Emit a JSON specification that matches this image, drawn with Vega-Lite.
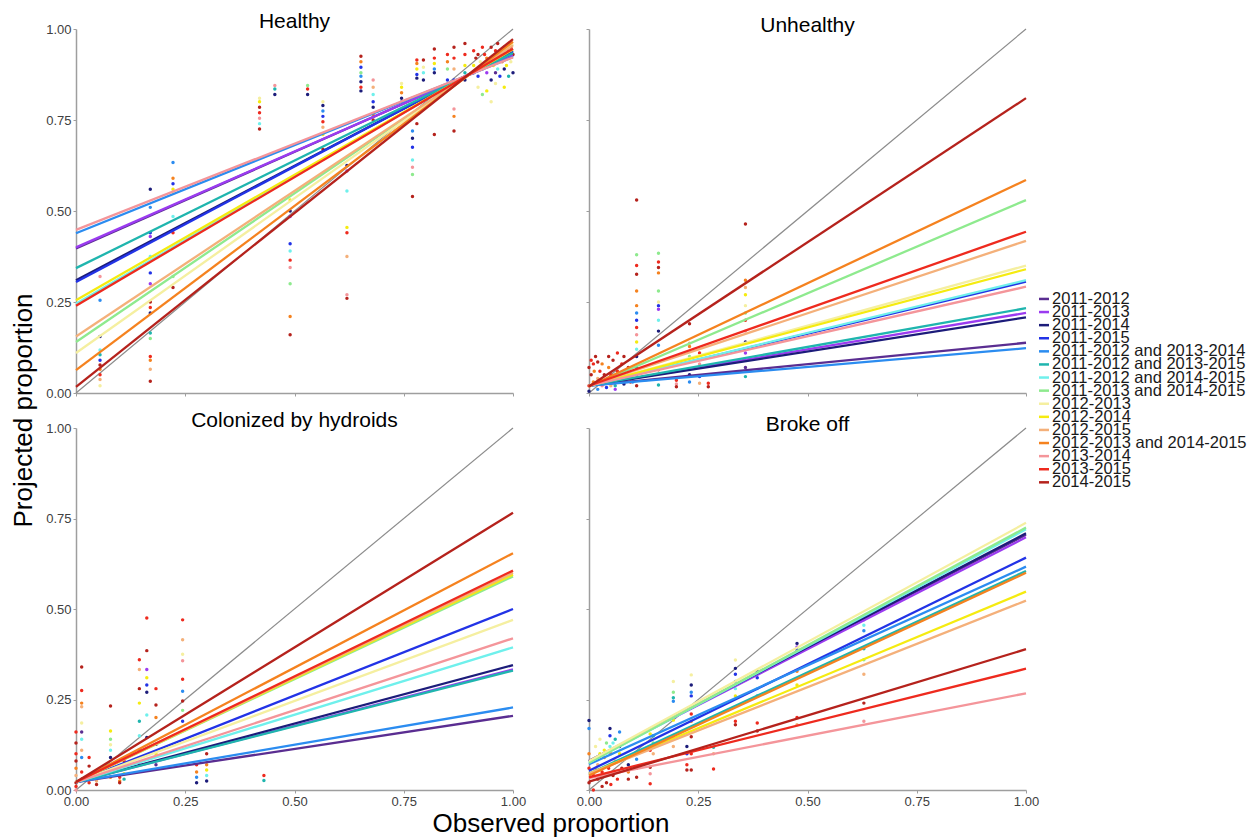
{
"$schema": "https://vega.github.io/schema/vega-lite/v6.json",
"background": "white",
"padding": {"left": 10, "top": 11, "right": 5, "bottom": 5},
"bounds": "flush",
"columns": 2,
"spacing": {"row": 35, "column": 76},
"config": {
  "font": "Liberation Sans",
  "view": {"stroke": null},
  "axis": {"grid": false, "domainColor": "#9e9e9e", "domainWidth": 1.5, "tickColor": "#9e9e9e", "tickSize": 3, "tickWidth": 1, "labelColor": "#404040", "labelFontSize": 13, "labelPadding": 2, "labelFont": "Liberation Sans", "labelFlush": false, "titleFont": "Liberation Sans", "titleColor": "#000000", "titleFontWeight": "normal", "titleFontSize": 26},
  "title": {"fontSize": 21, "fontWeight": "normal", "font": "Liberation Sans", "color": "#000000", "offset": -9, "baseline": "alphabetic", "anchor": "middle", "frame": "group"},
  "range": {"category": ["#5a2d91", "#9b3bf0", "#1c1c7a", "#2233e6", "#2b8cf0", "#1fb5ae", "#6ff0ec", "#8eea8e", "#f5efa0", "#f5eb10", "#f4b07a", "#f5821f", "#f4959a", "#ee2a1e", "#b5221c"]}
},
"datasets": {
  "periods": [{"p":1,"period":"2011-2012"},{"p":2,"period":"2011-2013"},{"p":3,"period":"2011-2014"},{"p":4,"period":"2011-2015"},{"p":5,"period":"2011-2012 and 2013-2014"},{"p":6,"period":"2011-2012 and 2013-2015"},{"p":7,"period":"2011-2012 and 2014-2015"},{"p":8,"period":"2011-2013 and 2014-2015"},{"p":9,"period":"2012-2013"},{"p":10,"period":"2012-2014"},{"p":11,"period":"2012-2015"},{"p":12,"period":"2012-2013 and 2014-2015"},{"p":13,"period":"2013-2014"},{"p":14,"period":"2013-2015"},{"p":15,"period":"2014-2015"}],
  "diag": [{"x":0,"y":0},{"x":1,"y":1}],
  "healthy_pts": [
    {"x":0.055,"y":0.32,"p":13},{"x":0.055,"y":0.255,"p":5},{"x":0.055,"y":0.155,"p":3},{"x":0.055,"y":0.118,"p":7},{"x":0.055,"y":0.105,"p":6},{"x":0.055,"y":0.09,"p":4},{"x":0.055,"y":0.077,"p":15},{"x":0.055,"y":0.065,"p":12},{"x":0.055,"y":0.05,"p":14},{"x":0.055,"y":0.037,"p":11},{"x":0.055,"y":0.02,"p":9},
    {"x":0.17,"y":0.56,"p":3},{"x":0.17,"y":0.51,"p":5},{"x":0.17,"y":0.44,"p":4},{"x":0.17,"y":0.43,"p":2},{"x":0.17,"y":0.375,"p":7},{"x":0.17,"y":0.33,"p":4},{"x":0.17,"y":0.3,"p":2},{"x":0.17,"y":0.25,"p":15},{"x":0.17,"y":0.235,"p":14},{"x":0.17,"y":0.22,"p":3},{"x":0.17,"y":0.165,"p":6},{"x":0.17,"y":0.15,"p":8},{"x":0.17,"y":0.1,"p":14},{"x":0.17,"y":0.09,"p":12},{"x":0.17,"y":0.065,"p":11},{"x":0.17,"y":0.032,"p":15},
    {"x":0.222,"y":0.633,"p":5},{"x":0.222,"y":0.59,"p":12},{"x":0.222,"y":0.575,"p":4},{"x":0.222,"y":0.56,"p":10},{"x":0.222,"y":0.55,"p":9},{"x":0.222,"y":0.485,"p":7},{"x":0.222,"y":0.44,"p":14},{"x":0.222,"y":0.32,"p":8},{"x":0.222,"y":0.29,"p":15},
    {"x":0.42,"y":0.81,"p":9},{"x":0.42,"y":0.8,"p":10},{"x":0.42,"y":0.785,"p":15},{"x":0.42,"y":0.77,"p":14},{"x":0.42,"y":0.755,"p":13},{"x":0.42,"y":0.74,"p":7},{"x":0.42,"y":0.725,"p":15},
    {"x":0.455,"y":0.845,"p":13},{"x":0.455,"y":0.835,"p":6},{"x":0.455,"y":0.82,"p":3},
    {"x":0.49,"y":0.53,"p":10},{"x":0.49,"y":0.5,"p":3},{"x":0.49,"y":0.485,"p":2},{"x":0.49,"y":0.41,"p":4},{"x":0.49,"y":0.39,"p":7},{"x":0.49,"y":0.365,"p":14},{"x":0.49,"y":0.345,"p":13},{"x":0.49,"y":0.3,"p":8},{"x":0.49,"y":0.21,"p":12},{"x":0.49,"y":0.16,"p":15},
    {"x":0.53,"y":0.845,"p":8},{"x":0.53,"y":0.835,"p":14},{"x":0.53,"y":0.82,"p":3},
    {"x":0.565,"y":0.8,"p":9},{"x":0.565,"y":0.79,"p":3},{"x":0.565,"y":0.775,"p":5},{"x":0.565,"y":0.76,"p":4},{"x":0.565,"y":0.745,"p":14},{"x":0.565,"y":0.73,"p":11},{"x":0.565,"y":0.71,"p":10},{"x":0.565,"y":0.67,"p":15},
    {"x":0.62,"y":0.625,"p":3},{"x":0.62,"y":0.61,"p":2},{"x":0.62,"y":0.555,"p":7},{"x":0.62,"y":0.455,"p":10},{"x":0.62,"y":0.44,"p":14},{"x":0.62,"y":0.375,"p":11},{"x":0.62,"y":0.27,"p":13},{"x":0.62,"y":0.26,"p":15},
    {"x":0.652,"y":0.925,"p":15},{"x":0.652,"y":0.91,"p":12},{"x":0.652,"y":0.895,"p":4},{"x":0.652,"y":0.88,"p":8},{"x":0.652,"y":0.87,"p":5},{"x":0.652,"y":0.855,"p":3},{"x":0.652,"y":0.84,"p":14},{"x":0.652,"y":0.83,"p":3},
    {"x":0.68,"y":0.86,"p":13},{"x":0.68,"y":0.84,"p":11},{"x":0.68,"y":0.82,"p":7},{"x":0.68,"y":0.8,"p":4},{"x":0.68,"y":0.785,"p":3},{"x":0.68,"y":0.765,"p":12},{"x":0.68,"y":0.75,"p":15},
    {"x":0.745,"y":0.85,"p":9},{"x":0.745,"y":0.84,"p":10},{"x":0.745,"y":0.825,"p":12},{"x":0.745,"y":0.81,"p":3},{"x":0.745,"y":0.8,"p":5},
    {"x":0.77,"y":0.72,"p":5},{"x":0.77,"y":0.7,"p":3},{"x":0.77,"y":0.675,"p":4},{"x":0.77,"y":0.64,"p":7},{"x":0.77,"y":0.62,"p":13},{"x":0.77,"y":0.6,"p":8},{"x":0.77,"y":0.54,"p":15},
    {"x":0.78,"y":0.915,"p":14},{"x":0.78,"y":0.905,"p":12},{"x":0.78,"y":0.89,"p":10},{"x":0.78,"y":0.875,"p":4},{"x":0.78,"y":0.865,"p":3},{"x":0.78,"y":0.74,"p":15},
    {"x":0.795,"y":0.915,"p":15},{"x":0.795,"y":0.895,"p":9},{"x":0.795,"y":0.88,"p":7},{"x":0.795,"y":0.86,"p":3},
    {"x":0.82,"y":0.945,"p":15},{"x":0.82,"y":0.92,"p":14},{"x":0.82,"y":0.905,"p":10},{"x":0.82,"y":0.89,"p":5},{"x":0.82,"y":0.88,"p":3},{"x":0.82,"y":0.81,"p":11},{"x":0.82,"y":0.71,"p":15},
    {"x":0.85,"y":0.93,"p":14},{"x":0.85,"y":0.91,"p":12},{"x":0.85,"y":0.89,"p":8},{"x":0.85,"y":0.86,"p":4},{"x":0.85,"y":0.84,"p":3},
    {"x":0.865,"y":0.95,"p":15},{"x":0.865,"y":0.92,"p":14},{"x":0.865,"y":0.89,"p":11},{"x":0.865,"y":0.86,"p":4},{"x":0.865,"y":0.78,"p":13},{"x":0.865,"y":0.76,"p":12},{"x":0.865,"y":0.72,"p":15},
    {"x":0.89,"y":0.96,"p":15},{"x":0.89,"y":0.93,"p":14},{"x":0.89,"y":0.9,"p":10},{"x":0.89,"y":0.88,"p":6},{"x":0.89,"y":0.86,"p":3},
    {"x":0.91,"y":0.94,"p":14},{"x":0.92,"y":0.93,"p":15},{"x":0.93,"y":0.95,"p":14},{"x":0.94,"y":0.92,"p":12},{"x":0.95,"y":0.95,"p":15},{"x":0.96,"y":0.94,"p":14},{"x":0.97,"y":0.93,"p":13},{"x":0.98,"y":0.95,"p":15},{"x":0.99,"y":0.94,"p":14},{"x":1.0,"y":0.93,"p":15},
    {"x":0.91,"y":0.88,"p":3},{"x":0.92,"y":0.87,"p":4},{"x":0.93,"y":0.89,"p":5},{"x":0.94,"y":0.88,"p":2},{"x":0.95,"y":0.86,"p":3},{"x":0.96,"y":0.88,"p":1},{"x":0.97,"y":0.87,"p":4},{"x":0.98,"y":0.89,"p":3},{"x":0.99,"y":0.87,"p":6},{"x":1.0,"y":0.88,"p":3},
    {"x":0.91,"y":0.9,"p":10},{"x":0.925,"y":0.91,"p":9},{"x":0.935,"y":0.9,"p":8},{"x":0.945,"y":0.91,"p":11},{"x":0.955,"y":0.9,"p":10},{"x":0.965,"y":0.89,"p":7},{"x":0.975,"y":0.91,"p":12},{"x":0.985,"y":0.9,"p":10},{"x":0.995,"y":0.91,"p":9},
    {"x":0.92,"y":0.84,"p":9},{"x":0.94,"y":0.83,"p":10},{"x":0.96,"y":0.85,"p":9},{"x":0.98,"y":0.84,"p":10},{"x":0.95,"y":0.8,"p":9},{"x":0.93,"y":0.82,"p":8},
    {"x":0.915,"y":0.92,"p":15},{"x":0.935,"y":0.93,"p":14},{"x":0.955,"y":0.92,"p":12},{"x":0.975,"y":0.94,"p":15},{"x":0.995,"y":0.95,"p":14},{"x":0.965,"y":0.96,"p":15},{"x":0.985,"y":0.93,"p":13}
  ],
  "healthy_fit": [
    {"x":0,"y":0.397,"p":1},{"x":1,"y":0.928,"p":1},
    {"x":0,"y":0.4,"p":2},{"x":1,"y":0.927,"p":2},
    {"x":0,"y":0.31,"p":3},{"x":1,"y":0.938,"p":3},
    {"x":0,"y":0.305,"p":4},{"x":1,"y":0.94,"p":4},
    {"x":0,"y":0.439,"p":5},{"x":1,"y":0.923,"p":5},
    {"x":0,"y":0.343,"p":6},{"x":1,"y":0.934,"p":6},
    {"x":0,"y":0.245,"p":7},{"x":1,"y":0.945,"p":7},
    {"x":0,"y":0.14,"p":8},{"x":1,"y":0.957,"p":8},
    {"x":0,"y":0.11,"p":9},{"x":1,"y":0.96,"p":9},
    {"x":0,"y":0.255,"p":10},{"x":1,"y":0.944,"p":10},
    {"x":0,"y":0.155,"p":11},{"x":1,"y":0.955,"p":11},
    {"x":0,"y":0.063,"p":12},{"x":1,"y":0.965,"p":12},
    {"x":0,"y":0.448,"p":13},{"x":1,"y":0.922,"p":13},
    {"x":0,"y":0.24,"p":14},{"x":1,"y":0.946,"p":14},
    {"x":0,"y":0.017,"p":15},{"x":1,"y":0.972,"p":15}
  ],
  "unhealthy_pts": [
    {"x":0.0,"y":0.02,"p":14},{"x":0.005,"y":0.05,"p":15},{"x":0.01,"y":0.08,"p":14},{"x":0.01,"y":0.03,"p":12},{"x":0.015,"y":0.1,"p":15},{"x":0.02,"y":0.04,"p":11},{"x":0.025,"y":0.06,"p":14},{"x":0.03,"y":0.02,"p":13},{"x":0.03,"y":0.08,"p":12},{"x":0.035,"y":0.05,"p":15},{"x":0.04,"y":0.03,"p":14},{"x":0.045,"y":0.07,"p":12},{"x":0.05,"y":0.02,"p":11},{"x":0.05,"y":0.05,"p":14},{"x":0.055,"y":0.09,"p":15},{"x":0.06,"y":0.04,"p":12},{"x":0.065,"y":0.06,"p":14},{"x":0.07,"y":0.03,"p":10},{"x":0.075,"y":0.08,"p":14},{"x":0.08,"y":0.05,"p":12},{"x":0.085,"y":0.04,"p":13},{"x":0.09,"y":0.07,"p":15},{"x":0.095,"y":0.03,"p":14},{"x":0.0,"y":0.005,"p":3},{"x":0.02,"y":0.01,"p":5},{"x":0.04,"y":0.015,"p":4},{"x":0.06,"y":0.02,"p":6},{"x":0.08,"y":0.025,"p":3},{"x":0.1,"y":0.03,"p":5},{"x":0.06,"y":0.01,"p":2},{"x":0.0,"y":0.07,"p":15},{"x":0.005,"y":0.09,"p":14},{"x":0.012,"y":0.06,"p":12},{"x":0.02,"y":0.085,"p":15},{"x":0.028,"y":0.035,"p":14},{"x":0.045,"y":0.1,"p":15},{"x":0.065,"y":0.11,"p":14},{"x":0.08,"y":0.1,"p":15},
    {"x":0.109,"y":0.53,"p":15},{"x":0.109,"y":0.38,"p":8},{"x":0.109,"y":0.35,"p":14},{"x":0.109,"y":0.326,"p":15},{"x":0.109,"y":0.28,"p":12},{"x":0.109,"y":0.24,"p":12},{"x":0.109,"y":0.22,"p":5},{"x":0.109,"y":0.2,"p":4},{"x":0.109,"y":0.18,"p":14},{"x":0.109,"y":0.16,"p":13},{"x":0.109,"y":0.14,"p":10},{"x":0.109,"y":0.12,"p":7},{"x":0.109,"y":0.1,"p":3},{"x":0.109,"y":0.07,"p":6},{"x":0.109,"y":0.05,"p":4},{"x":0.109,"y":0.02,"p":15},
    {"x":0.159,"y":0.384,"p":8},{"x":0.159,"y":0.36,"p":14},{"x":0.159,"y":0.345,"p":15},{"x":0.159,"y":0.33,"p":12},{"x":0.159,"y":0.28,"p":8},{"x":0.159,"y":0.25,"p":9},{"x":0.159,"y":0.24,"p":4},{"x":0.159,"y":0.23,"p":2},{"x":0.159,"y":0.2,"p":7},{"x":0.159,"y":0.17,"p":3},{"x":0.159,"y":0.131,"p":5},{"x":0.159,"y":0.064,"p":15},{"x":0.159,"y":0.022,"p":6},
    {"x":0.2,"y":0.035,"p":14},{"x":0.2,"y":0.025,"p":13},{"x":0.2,"y":0.017,"p":15},
    {"x":0.23,"y":0.19,"p":15},{"x":0.23,"y":0.137,"p":11},{"x":0.23,"y":0.128,"p":12},{"x":0.23,"y":0.1,"p":8},{"x":0.23,"y":0.05,"p":3},{"x":0.23,"y":0.03,"p":5},
    {"x":0.253,"y":0.11,"p":14},{"x":0.253,"y":0.08,"p":13},{"x":0.253,"y":0.045,"p":4},{"x":0.253,"y":0.027,"p":11},
    {"x":0.273,"y":0.027,"p":14},{"x":0.273,"y":0.017,"p":15},
    {"x":0.358,"y":0.464,"p":15},{"x":0.358,"y":0.31,"p":12},{"x":0.358,"y":0.29,"p":11},{"x":0.358,"y":0.27,"p":10},{"x":0.358,"y":0.24,"p":9},{"x":0.358,"y":0.22,"p":8},{"x":0.358,"y":0.2,"p":14},{"x":0.358,"y":0.17,"p":13},{"x":0.358,"y":0.14,"p":3},{"x":0.358,"y":0.12,"p":4},{"x":0.358,"y":0.11,"p":2},{"x":0.358,"y":0.09,"p":5},{"x":0.358,"y":0.07,"p":1},{"x":0.358,"y":0.045,"p":6}
  ],
  "unhealthy_fit": [
    {"x":0,"y":0.02,"p":1},{"x":1,"y":0.138,"p":1},
    {"x":0,"y":0.02,"p":2},{"x":1,"y":0.22,"p":2},
    {"x":0,"y":0.02,"p":3},{"x":1,"y":0.208,"p":3},
    {"x":0,"y":0.02,"p":4},{"x":1,"y":0.306,"p":4},
    {"x":0,"y":0.02,"p":5},{"x":1,"y":0.123,"p":5},
    {"x":0,"y":0.02,"p":6},{"x":1,"y":0.233,"p":6},
    {"x":0,"y":0.02,"p":7},{"x":1,"y":0.31,"p":7},
    {"x":0,"y":0.018,"p":8},{"x":1,"y":0.53,"p":8},
    {"x":0,"y":0.02,"p":9},{"x":1,"y":0.35,"p":9},
    {"x":0,"y":0.02,"p":10},{"x":1,"y":0.34,"p":10},
    {"x":0,"y":0.02,"p":11},{"x":1,"y":0.418,"p":11},
    {"x":0,"y":0.018,"p":12},{"x":1,"y":0.585,"p":12},
    {"x":0,"y":0.02,"p":13},{"x":1,"y":0.292,"p":13},
    {"x":0,"y":0.02,"p":14},{"x":1,"y":0.443,"p":14},
    {"x":0,"y":0.018,"p":15},{"x":1,"y":0.81,"p":15}
  ],
  "hydroid_pts": [
    {"x":0.0,"y":0.1,"p":14},{"x":0.0,"y":0.08,"p":15},{"x":0.0,"y":0.06,"p":12},{"x":0.0,"y":0.04,"p":11},{"x":0.0,"y":0.02,"p":15},{"x":0.0,"y":0.01,"p":14},{"x":0.0,"y":0.0,"p":13},{"x":0.0,"y":0.13,"p":15},{"x":0.0,"y":0.16,"p":14},
    {"x":0.013,"y":0.34,"p":15},{"x":0.013,"y":0.275,"p":14},{"x":0.013,"y":0.24,"p":12},{"x":0.013,"y":0.23,"p":11},{"x":0.013,"y":0.185,"p":9},{"x":0.013,"y":0.16,"p":1},{"x":0.013,"y":0.14,"p":7},{"x":0.013,"y":0.11,"p":11},{"x":0.013,"y":0.09,"p":5},{"x":0.013,"y":0.05,"p":14},{"x":0.013,"y":0.03,"p":15},
    {"x":0.03,"y":0.09,"p":14},{"x":0.03,"y":0.066,"p":15},{"x":0.03,"y":0.04,"p":12},{"x":0.03,"y":0.02,"p":14},
    {"x":0.047,"y":0.04,"p":14},{"x":0.047,"y":0.025,"p":11},{"x":0.047,"y":0.015,"p":15},
    {"x":0.079,"y":0.232,"p":15},{"x":0.079,"y":0.163,"p":10},{"x":0.079,"y":0.14,"p":8},{"x":0.079,"y":0.125,"p":9},{"x":0.079,"y":0.11,"p":7},{"x":0.079,"y":0.09,"p":3},{"x":0.079,"y":0.07,"p":5},{"x":0.079,"y":0.05,"p":14},{"x":0.079,"y":0.035,"p":12},
    {"x":0.1,"y":0.035,"p":14},{"x":0.1,"y":0.025,"p":12},{"x":0.1,"y":0.02,"p":15},
    {"x":0.11,"y":0.08,"p":14},{"x":0.11,"y":0.06,"p":12},{"x":0.11,"y":0.045,"p":10},{"x":0.11,"y":0.03,"p":6},
    {"x":0.145,"y":0.36,"p":14},{"x":0.145,"y":0.333,"p":11},{"x":0.145,"y":0.28,"p":15},{"x":0.145,"y":0.24,"p":10},{"x":0.145,"y":0.19,"p":6},{"x":0.145,"y":0.15,"p":7},{"x":0.145,"y":0.11,"p":5},{"x":0.145,"y":0.07,"p":2},
    {"x":0.162,"y":0.475,"p":14},{"x":0.162,"y":0.385,"p":15},{"x":0.162,"y":0.333,"p":2},{"x":0.162,"y":0.31,"p":10},{"x":0.162,"y":0.29,"p":4},{"x":0.162,"y":0.27,"p":3},{"x":0.162,"y":0.207,"p":7},{"x":0.162,"y":0.145,"p":3},
    {"x":0.183,"y":0.28,"p":14},{"x":0.183,"y":0.235,"p":15},{"x":0.183,"y":0.2,"p":12},{"x":0.183,"y":0.126,"p":3},{"x":0.183,"y":0.1,"p":10},{"x":0.183,"y":0.07,"p":1},
    {"x":0.244,"y":0.47,"p":14},{"x":0.244,"y":0.415,"p":11},{"x":0.244,"y":0.375,"p":9},{"x":0.244,"y":0.357,"p":13},{"x":0.244,"y":0.306,"p":14},{"x":0.244,"y":0.273,"p":5},{"x":0.244,"y":0.246,"p":15},{"x":0.244,"y":0.22,"p":8},{"x":0.244,"y":0.19,"p":4},
    {"x":0.276,"y":0.07,"p":14},{"x":0.276,"y":0.05,"p":12},{"x":0.276,"y":0.035,"p":5},{"x":0.276,"y":0.02,"p":3},
    {"x":0.299,"y":0.1,"p":15},{"x":0.299,"y":0.07,"p":12},{"x":0.299,"y":0.055,"p":10},{"x":0.299,"y":0.04,"p":7},{"x":0.299,"y":0.025,"p":3},
    {"x":0.43,"y":0.04,"p":14},{"x":0.43,"y":0.026,"p":6}
  ],
  "hydroid_fit": [
    {"x":0,"y":0.022,"p":1},{"x":1,"y":0.205,"p":1},
    {"x":0,"y":0.022,"p":2},{"x":1,"y":0.333,"p":2},
    {"x":0,"y":0.022,"p":3},{"x":1,"y":0.345,"p":3},
    {"x":0,"y":0.022,"p":4},{"x":1,"y":0.5,"p":4},
    {"x":0,"y":0.022,"p":5},{"x":1,"y":0.228,"p":5},
    {"x":0,"y":0.022,"p":6},{"x":1,"y":0.33,"p":6},
    {"x":0,"y":0.022,"p":7},{"x":1,"y":0.394,"p":7},
    {"x":0,"y":0.022,"p":8},{"x":1,"y":0.59,"p":8},
    {"x":0,"y":0.022,"p":9},{"x":1,"y":0.47,"p":9},
    {"x":0,"y":0.022,"p":10},{"x":1,"y":0.595,"p":10},
    {"x":0,"y":0.022,"p":11},{"x":1,"y":0.6,"p":11},
    {"x":0,"y":0.022,"p":12},{"x":1,"y":0.654,"p":12},
    {"x":0,"y":0.022,"p":13},{"x":1,"y":0.419,"p":13},
    {"x":0,"y":0.022,"p":14},{"x":1,"y":0.606,"p":14},
    {"x":0,"y":0.022,"p":15},{"x":1,"y":0.766,"p":15}
  ],
  "broke_pts": [
    {"x":0.0,"y":0.192,"p":3},{"x":0.0,"y":0.17,"p":5},{"x":0.0,"y":0.1,"p":12},{"x":0.0,"y":0.06,"p":14},{"x":0.0,"y":0.02,"p":15},{"x":0.005,"y":0.08,"p":10},{"x":0.01,"y":0.04,"p":14},{"x":0.015,"y":0.12,"p":9},{"x":0.02,"y":0.03,"p":15},{"x":0.02,"y":0.07,"p":11},{"x":0.025,"y":0.1,"p":10},{"x":0.03,"y":0.05,"p":14},{"x":0.035,"y":0.09,"p":12},{"x":0.04,"y":0.02,"p":15},{"x":0.04,"y":0.13,"p":8},{"x":0.045,"y":0.06,"p":14},{"x":0.048,"y":0.17,"p":3},{"x":0.048,"y":0.15,"p":4},{"x":0.048,"y":0.12,"p":7},{"x":0.05,"y":0.1,"p":12},{"x":0.055,"y":0.04,"p":15},{"x":0.06,"y":0.08,"p":11},{"x":0.06,"y":0.14,"p":6},{"x":0.065,"y":0.03,"p":14},{"x":0.07,"y":0.16,"p":5},{"x":0.07,"y":0.12,"p":3},{"x":0.07,"y":0.1,"p":10},{"x":0.075,"y":0.06,"p":15},{"x":0.01,"y":0.0,"p":14},{"x":0.03,"y":0.01,"p":15},{"x":0.05,"y":0.015,"p":14},{"x":0.015,"y":0.06,"p":13},{"x":0.025,"y":0.14,"p":9},{"x":0.035,"y":0.11,"p":10},{"x":0.055,"y":0.13,"p":7},
    {"x":0.09,"y":0.07,"p":3},{"x":0.09,"y":0.05,"p":12},{"x":0.09,"y":0.03,"p":15},
    {"x":0.109,"y":0.085,"p":5},{"x":0.109,"y":0.06,"p":14},{"x":0.109,"y":0.035,"p":15},
    {"x":0.14,"y":0.155,"p":10},{"x":0.14,"y":0.11,"p":14},{"x":0.14,"y":0.063,"p":15},{"x":0.14,"y":0.045,"p":13},{"x":0.14,"y":0.017,"p":14},
    {"x":0.147,"y":0.15,"p":6},{"x":0.147,"y":0.13,"p":8},{"x":0.147,"y":0.1,"p":11},
    {"x":0.193,"y":0.3,"p":9},{"x":0.193,"y":0.27,"p":8},{"x":0.193,"y":0.255,"p":6},{"x":0.193,"y":0.245,"p":5},{"x":0.193,"y":0.193,"p":10},{"x":0.193,"y":0.147,"p":11},{"x":0.193,"y":0.12,"p":11},
    {"x":0.224,"y":0.12,"p":3},{"x":0.224,"y":0.1,"p":4},{"x":0.224,"y":0.07,"p":14},{"x":0.224,"y":0.055,"p":15},
    {"x":0.234,"y":0.318,"p":9},{"x":0.234,"y":0.29,"p":3},{"x":0.234,"y":0.27,"p":5},{"x":0.234,"y":0.26,"p":4},{"x":0.234,"y":0.21,"p":14},{"x":0.234,"y":0.19,"p":12},{"x":0.234,"y":0.147,"p":15},{"x":0.234,"y":0.1,"p":14},{"x":0.234,"y":0.055,"p":15},
    {"x":0.285,"y":0.118,"p":6},{"x":0.285,"y":0.1,"p":11},{"x":0.285,"y":0.058,"p":14},
    {"x":0.335,"y":0.359,"p":9},{"x":0.335,"y":0.336,"p":3},{"x":0.335,"y":0.32,"p":4},{"x":0.335,"y":0.3,"p":5},{"x":0.335,"y":0.28,"p":7},{"x":0.335,"y":0.26,"p":10},{"x":0.335,"y":0.19,"p":14},{"x":0.335,"y":0.18,"p":15},
    {"x":0.385,"y":0.328,"p":3},{"x":0.385,"y":0.31,"p":4},{"x":0.385,"y":0.28,"p":7},{"x":0.385,"y":0.26,"p":5},{"x":0.385,"y":0.185,"p":14},{"x":0.385,"y":0.163,"p":15},
    {"x":0.476,"y":0.405,"p":3},{"x":0.476,"y":0.395,"p":2},{"x":0.476,"y":0.387,"p":4},{"x":0.476,"y":0.378,"p":7},{"x":0.476,"y":0.328,"p":12},{"x":0.476,"y":0.29,"p":10},{"x":0.476,"y":0.2,"p":14},{"x":0.476,"y":0.18,"p":11},
    {"x":0.629,"y":0.48,"p":3},{"x":0.629,"y":0.47,"p":2},{"x":0.629,"y":0.455,"p":7},{"x":0.629,"y":0.44,"p":5},{"x":0.629,"y":0.39,"p":6},{"x":0.629,"y":0.36,"p":8},{"x":0.629,"y":0.32,"p":11},{"x":0.629,"y":0.24,"p":15},{"x":0.629,"y":0.19,"p":13}
  ],
  "broke_fit": [
    {"x":0,"y":0.08,"p":1},{"x":1,"y":0.705,"p":1},
    {"x":0,"y":0.08,"p":2},{"x":1,"y":0.698,"p":2},
    {"x":0,"y":0.08,"p":3},{"x":1,"y":0.709,"p":3},
    {"x":0,"y":0.053,"p":4},{"x":1,"y":0.642,"p":4},
    {"x":0,"y":0.071,"p":5},{"x":1,"y":0.617,"p":5},
    {"x":0,"y":0.045,"p":6},{"x":1,"y":0.605,"p":6},
    {"x":0,"y":0.075,"p":7},{"x":1,"y":0.72,"p":7},
    {"x":0,"y":0.075,"p":8},{"x":1,"y":0.725,"p":8},
    {"x":0,"y":0.08,"p":9},{"x":1,"y":0.738,"p":9},
    {"x":0,"y":0.045,"p":10},{"x":1,"y":0.548,"p":10},
    {"x":0,"y":0.045,"p":11},{"x":1,"y":0.523,"p":11},
    {"x":0,"y":0.04,"p":12},{"x":1,"y":0.6,"p":12},
    {"x":0,"y":0.033,"p":13},{"x":1,"y":0.267,"p":13},
    {"x":0,"y":0.035,"p":14},{"x":1,"y":0.335,"p":14},
    {"x":0,"y":0.023,"p":15},{"x":1,"y":0.389,"p":15}
  ]
},
"concat": [
  {
    "width": 437, "height": 364,
    "title": "Healthy",
    "encoding": {
      "x": {"field": "x", "type": "quantitative", "scale": {"domain": [0, 1], "nice": false, "zero": false}, "axis": {"values": [0, 0.25, 0.5, 0.75, 1], "labels": false, "title": null}},
      "y": {"field": "y", "type": "quantitative", "scale": {"domain": [0, 1], "nice": false, "zero": false}, "axis": {"values": [0, 0.25, 0.5, 0.75, 1], "format": ".2f", "title": "Projected proportion", "titleAngle": 270, "titleX": -45, "titleY": 381, "titleAlign": "center", "titleBaseline": "alphabetic"}}
    },
    "layer": [
      {"data": {"name": "diag"}, "mark": {"type": "line", "color": "#8c8c8c", "strokeWidth": 1.2}},
      {"data": {"name": "healthy_pts"}, "transform": [{"lookup": "p", "from": {"data": {"name": "periods"}, "key": "p", "fields": ["period"]}}], "mark": {"type": "circle", "size": 12, "opacity": 1},
       "encoding": {"color": {"field": "period", "type": "nominal", "sort": {"field": "p", "op": "min"}, "legend": null}}},
      {"data": {"name": "healthy_fit"}, "transform": [{"lookup": "p", "from": {"data": {"name": "periods"}, "key": "p", "fields": ["period"]}}], "mark": {"type": "line", "strokeWidth": 2.3},
       "encoding": {"color": {"field": "period", "type": "nominal", "sort": {"field": "p", "op": "min"}, "legend": null}}}
    ]
  },
  {
    "width": 437, "height": 364,
    "title": "Unhealthy",
    "resolve": {"scale": {"x": "independent", "y": "independent"}, "axis": {"x": "independent", "y": "independent"}},
    "layer": [
      {
        "encoding": {
          "x": {"field": "x", "type": "quantitative", "scale": {"domain": [0, 1], "nice": false, "zero": false}, "axis": {"values": [0, 0.25, 0.5, 0.75, 1], "labels": false, "title": null}},
          "y": {"field": "y", "type": "quantitative", "scale": {"domain": [0, 1], "nice": false, "zero": false}, "axis": {"values": [0, 0.25, 0.5, 0.75, 1], "labels": false, "title": null}}
        },
        "layer": [
          {"data": {"name": "diag"}, "mark": {"type": "line", "color": "#8c8c8c", "strokeWidth": 1.2}},
          {"data": {"name": "unhealthy_pts"}, "transform": [{"lookup": "p", "from": {"data": {"name": "periods"}, "key": "p", "fields": ["period"]}}], "mark": {"type": "circle", "size": 12, "opacity": 1},
           "encoding": {"color": {"field": "period", "type": "nominal", "sort": {"field": "p", "op": "min"}, "legend": null}}},
          {"data": {"name": "unhealthy_fit"}, "transform": [{"lookup": "p", "from": {"data": {"name": "periods"}, "key": "p", "fields": ["period"]}}], "mark": {"type": "line", "strokeWidth": 2.3},
           "encoding": {"color": {"field": "period", "type": "nominal", "sort": {"field": "p", "op": "min"}, "legend": null}}}
        ]
      },
      {
        "data": {"name": "periods"},
        "encoding": {
          "x": {"datum": 1, "type": "quantitative", "scale": {"domain": [0, 0.9604], "nice": false, "zero": false}, "axis": null},
          "y": {"field": "p", "type": "quantitative", "scale": {"domain": [-19.61, 8.18], "reverse": true, "nice": false, "zero": false}, "axis": null}
        },
        "layer": [
          {"mark": {"type": "point", "shape": "stroke", "size": 100, "strokeWidth": 2.5, "filled": false, "opacity": 1},
           "encoding": {"color": {"field": "period", "type": "nominal", "sort": {"field": "p", "op": "min"}, "legend": null}}},
          {"mark": {"type": "text", "align": "left", "baseline": "middle", "dx": 8, "fontSize": 16.5, "font": "Liberation Sans", "color": "#1a1a1a"},
           "encoding": {"text": {"field": "period"}}}
        ]
      }
    ]
  },
  {
    "width": 437, "height": 362,
    "title": "Colonized by hydroids",
    "encoding": {
      "x": {"field": "x", "type": "quantitative", "scale": {"domain": [0, 1], "nice": false, "zero": false}, "axis": {"values": [0, 0.25, 0.5, 0.75, 1], "format": ".2f", "title": "Observed proportion", "titleX": 474.5, "titleY": 41, "titleAlign": "center", "titleBaseline": "alphabetic"}},
      "y": {"field": "y", "type": "quantitative", "scale": {"domain": [0, 1], "nice": false, "zero": false}, "axis": {"values": [0, 0.25, 0.5, 0.75, 1], "format": ".2f", "title": null}}
    },
    "layer": [
      {"data": {"name": "diag"}, "mark": {"type": "line", "color": "#8c8c8c", "strokeWidth": 1.2}},
      {"data": {"name": "hydroid_pts"}, "transform": [{"lookup": "p", "from": {"data": {"name": "periods"}, "key": "p", "fields": ["period"]}}], "mark": {"type": "circle", "size": 12, "opacity": 1},
       "encoding": {"color": {"field": "period", "type": "nominal", "sort": {"field": "p", "op": "min"}, "legend": null}}},
      {"data": {"name": "hydroid_fit"}, "transform": [{"lookup": "p", "from": {"data": {"name": "periods"}, "key": "p", "fields": ["period"]}}], "mark": {"type": "line", "strokeWidth": 2.3},
       "encoding": {"color": {"field": "period", "type": "nominal", "sort": {"field": "p", "op": "min"}, "legend": null}}}
    ]
  },
  {
    "width": 437, "height": 362,
    "title": "Broke off",
    "encoding": {
      "x": {"field": "x", "type": "quantitative", "scale": {"domain": [0, 1], "nice": false, "zero": false}, "axis": {"values": [0, 0.25, 0.5, 0.75, 1], "format": ".2f", "title": null}},
      "y": {"field": "y", "type": "quantitative", "scale": {"domain": [0, 1], "nice": false, "zero": false}, "axis": {"values": [0, 0.25, 0.5, 0.75, 1], "labels": false, "title": null}}
    },
    "layer": [
      {"data": {"name": "diag"}, "mark": {"type": "line", "color": "#8c8c8c", "strokeWidth": 1.2}},
      {"data": {"name": "broke_pts"}, "transform": [{"lookup": "p", "from": {"data": {"name": "periods"}, "key": "p", "fields": ["period"]}}], "mark": {"type": "circle", "size": 12, "opacity": 1},
       "encoding": {"color": {"field": "period", "type": "nominal", "sort": {"field": "p", "op": "min"}, "legend": null}}},
      {"data": {"name": "broke_fit"}, "transform": [{"lookup": "p", "from": {"data": {"name": "periods"}, "key": "p", "fields": ["period"]}}], "mark": {"type": "line", "strokeWidth": 2.3},
       "encoding": {"color": {"field": "period", "type": "nominal", "sort": {"field": "p", "op": "min"}, "legend": null}}}
    ]
  }
]
}
